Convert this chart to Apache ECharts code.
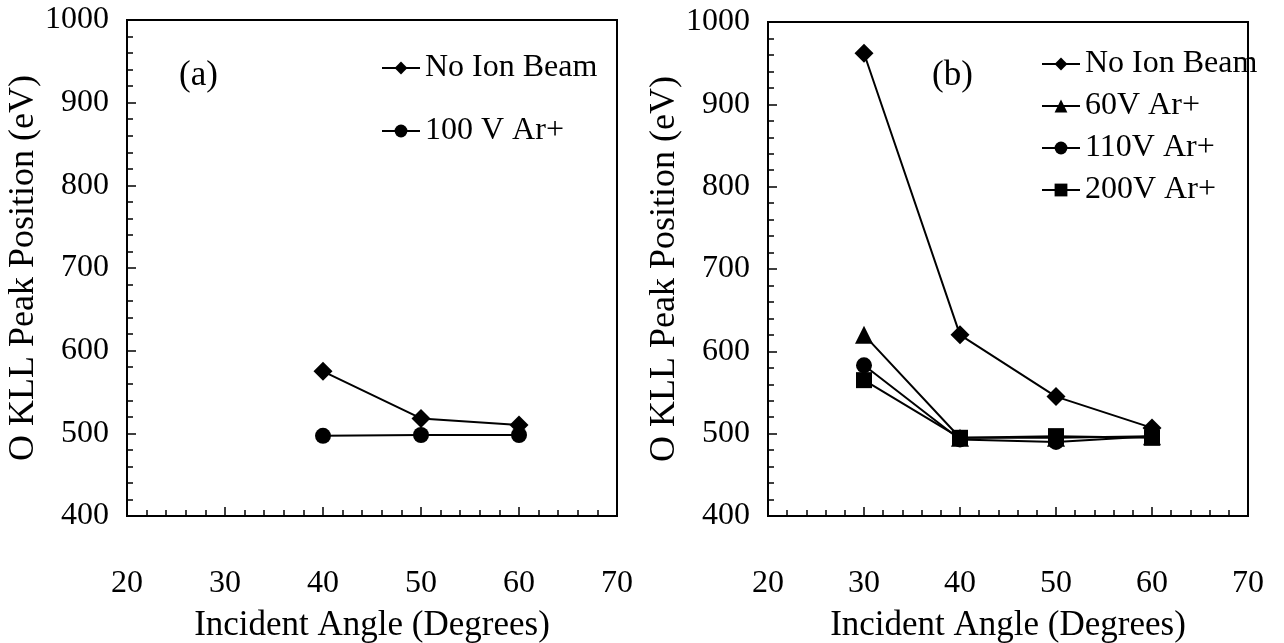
<!DOCTYPE html>
<html>
<head>
<meta charset="utf-8">
<script src="https://cdn.jsdelivr.net/npm/echarts@6/dist/echarts.min.js"></script>
<style>
  html, body { margin: 0; padding: 0; background: #fff; }
  #main { width: 1284px; height: 643px; }
</style>
</head>
<body>
<div id="main"></div>
<script>
// panel (a)
var anglesA = [40, 50, 60];
var noBeamA = [575, 518, 510];
var ar100A = [497, 498, 498];

// panel (b)
var anglesB = [30, 40, 50, 60];
var noBeamB = [962, 620, 545, 507];
var ar60B = [620, 495, 495, 497];
var ar110B = [583, 493, 490, 497];
var ar200B = [565, 495, 497, 495];

var xTicks = [20, 30, 40, 50, 60, 70];
var yTicks = [400, 500, 600, 700, 800, 900, 1000];

var font = 'Liberation Serif';

function pairs(xs, ys) {
    return xs.map(function (x, i) { return [x, ys[i]]; });
}

function xAxis(idx) {
    return {
        gridIndex: idx, type: 'value',
        min: xTicks[0], max: xTicks[xTicks.length - 1], interval: 10,
        name: 'Incident Angle (Degrees)', nameLocation: 'middle', nameGap: 92,
        nameTextStyle: { fontFamily: font, fontSize: 35, color: '#000' },
        axisLine: { show: true, lineStyle: { color: '#000', width: 2 } },
        axisTick: { show: true, inside: true, length: 9, lineStyle: { color: '#000', width: 1.5 } },
        minorTick: { show: true, splitNumber: 5, length: 6, lineStyle: { color: '#000', width: 1.5 } },
        axisLabel: { margin: 52, fontFamily: font, fontSize: 32, color: '#000' },
        splitLine: { show: false }
    };
}

function yAxis(idx, gap) {
    return {
        gridIndex: idx, type: 'value',
        min: yTicks[0], max: yTicks[yTicks.length - 1], interval: 100,
        name: 'O KLL Peak Position (eV)', nameLocation: 'middle', nameGap: gap,
        nameTextStyle: { fontFamily: font, fontSize: 36, color: '#000' },
        axisLine: { show: true, lineStyle: { color: '#000', width: 2 } },
        axisTick: { show: true, inside: true, length: 9, lineStyle: { color: '#000', width: 1.5 } },
        minorTick: { show: true, splitNumber: 5, length: 6, lineStyle: { color: '#000', width: 1.5 } },
        axisLabel: { margin: 18, fontFamily: font, fontSize: 32, color: '#000',
                     formatter: function (v) { return String(v); } },
        splitLine: { show: false }
    };
}

function line(name, idx, data, symbol, size) {
    return {
        name: name, type: 'line', xAxisIndex: idx, yAxisIndex: idx,
        data: data, symbol: symbol, symbolSize: size,
        itemStyle: { color: '#000' },
        lineStyle: { color: '#000', width: 2 },
        animation: false
    };
}

var chart = echarts.init(document.getElementById('main'));

chart.setOption({
    backgroundColor: '#fff',
    grid: [
        { left: 127, top: 20, width: 490, height: 496, show: true, borderColor: '#000', borderWidth: 2,
          outerBoundsMode: 'none', containLabel: false },
        { left: 768, top: 22, width: 480, height: 494, show: true, borderColor: '#000', borderWidth: 2,
          outerBoundsMode: 'none', containLabel: false }
    ],
    xAxis: [xAxis(0), xAxis(1)],
    yAxis: [yAxis(0, 82), yAxis(1, 76)],
    legend: [
        {
            data: ['No Ion Beam', '100 V Ar+'],
            orient: 'vertical', left: 376, top: 47, itemGap: 31,
            itemWidth: 38, itemHeight: 16,
            textStyle: { fontFamily: font, fontSize: 32, color: '#000' }
        },
        {
            data: ['No Ion Beam ', '60V Ar+', '110V Ar+', '200V Ar+'],
            orient: 'vertical', left: 1036, top: 43, itemGap: 10,
            itemWidth: 38, itemHeight: 16,
            textStyle: { fontFamily: font, fontSize: 32, color: '#000' }
        }
    ],
    graphic: [
        { type: 'text', left: 179, top: 58, style: { text: '(a)', fontFamily: font, fontSize: 35, fill: '#000' } },
        { type: 'text', left: 932, top: 58, style: { text: '(b)', fontFamily: font, fontSize: 35, fill: '#000' } }
    ],
    series: [
        line('No Ion Beam', 0, pairs(anglesA, noBeamA), 'diamond', 19),
        line('100 V Ar+', 0, pairs(anglesA, ar100A), 'circle', 16),
        line('No Ion Beam ', 1, pairs(anglesB, noBeamB), 'diamond', 19),
        line('60V Ar+', 1, pairs(anglesB, ar60B), 'triangle', 18),
        line('110V Ar+', 1, pairs(anglesB, ar110B), 'circle', 16),
        line('200V Ar+', 1, pairs(anglesB, ar200B), 'rect', 16)
    ]
});
</script>
</body>
</html>
